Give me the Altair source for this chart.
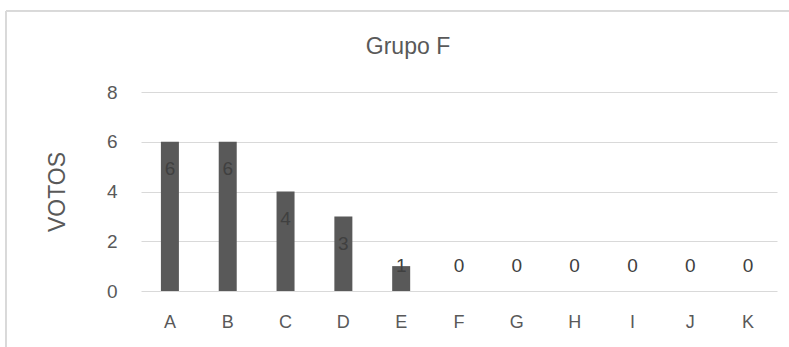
import altair as alt
import pandas as pd

# Votes per candidate in group F
candidatos = ["A", "B", "C", "D", "E", "F", "G", "H", "I", "J", "K"]
votos = [6, 6, 4, 3, 1, 0, 0, 0, 0, 0, 0]

df = pd.DataFrame({"candidato": candidatos, "votos": votos})

W, H = 636, 199
FONT = "Liberation Sans"
GREY = "#595959"

x = alt.X(
    "candidato:N",
    sort=candidatos,
    scale=alt.Scale(paddingInner=0, paddingOuter=0),
    axis=alt.Axis(
        title=None, labelAngle=0, domain=False, ticks=False,
        labelPadding=22, labelFontSize=18, labelColor=GREY, labelFont=FONT,
    ),
)

bars = alt.Chart(df).mark_bar(color=GREY, size=18).encode(
    x=x,
    y=alt.Y(
        "votos:Q",
        scale=alt.Scale(domain=[0, 8]),
        axis=alt.Axis(
            values=[0, 2, 4, 6, 8], grid=True, gridColor="#d9d9d9", gridWidth=1,
            domain=False, ticks=False, labelPadding=24, labelFontSize=19,
            labelColor=GREY, labelFont=FONT,
            title="VOTOS", titleFontSize=23, titleFontWeight="normal",
            titleColor=GREY, titleFont=FONT, titleAngle=270,
            titleX=-84, titleY=H / 2, titleAlign="center", titleBaseline="middle",
        ),
    ),
)

# Data labels sit just inside the top of each bar, floored near the baseline
labels = alt.Chart(df).transform_calculate(
    pos="max(datum.votos - 1.1, 1)"
).mark_text(fontSize=19, color="#404040", font=FONT, baseline="middle").encode(
    x=alt.X("candidato:N", sort=candidatos),
    y=alt.Y("pos:Q"),
    text=alt.Text("votos:Q"),
)

# Chart-area frame (left and top edges)
frame_left = alt.Chart(df).mark_rule(color="#d9d9d9", strokeWidth=1).encode(
    x=alt.value(-135), y=alt.value(-81), y2=alt.value(H + 80)
)
frame_top = alt.Chart(df).mark_rule(color="#d9d9d9", strokeWidth=1).encode(
    x=alt.value(-135), x2=alt.value(W + 40), y=alt.value(-81)
)

chart = alt.layer(frame_left, frame_top, bars, labels).properties(
    width=W,
    height=H,
    title=alt.TitleParams(
        "Grupo F", fontSize=23, font=FONT, color=GREY, fontWeight="normal",
        anchor="middle", dx=-51, offset=-66, baseline="alphabetic",
    ),
    autosize=alt.AutoSizeParams(type="none"),
    padding={"left": 141, "top": 92, "right": 12, "bottom": 56},
).configure(background="white").configure_view(stroke=None, strokeWidth=0)

chart.save("out.html", embed_options={"renderer": "svg", "actions": False})
